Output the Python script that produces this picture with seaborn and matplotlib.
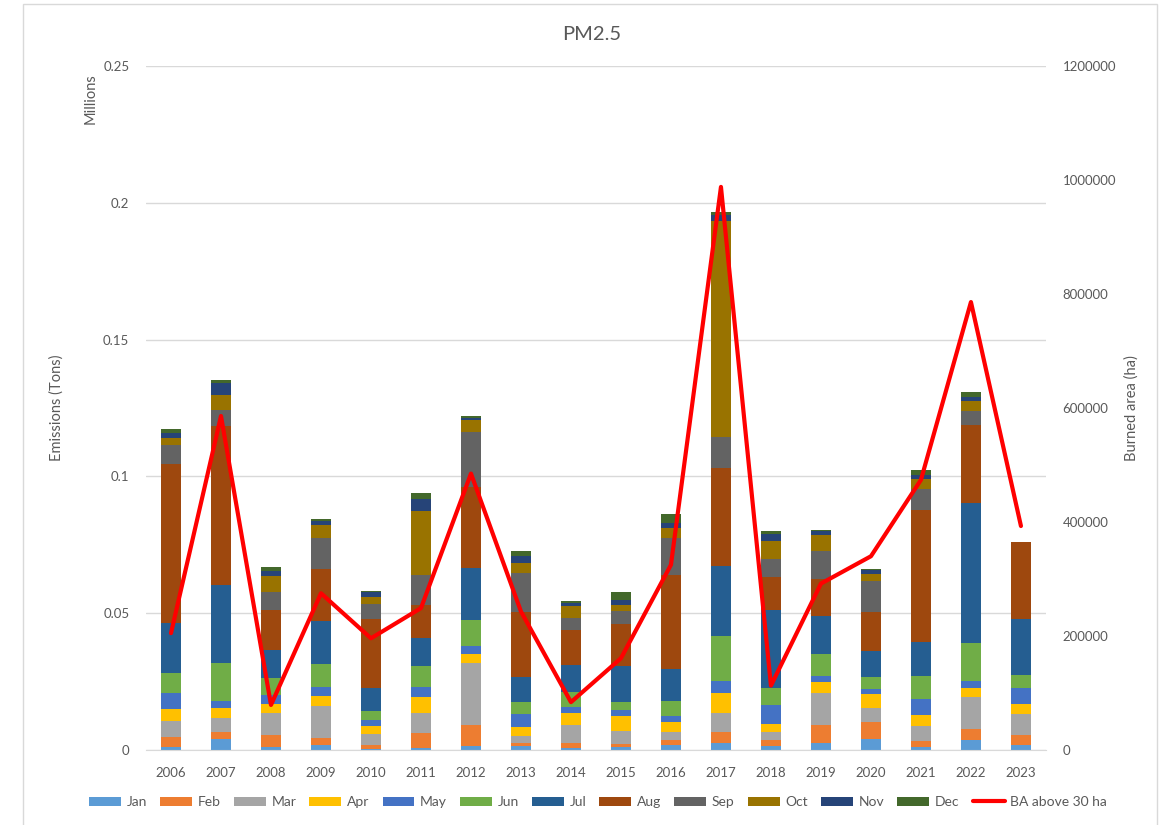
import matplotlib
matplotlib.use("Agg")
import matplotlib.pyplot as plt
from matplotlib.patches import Patch, Rectangle
from matplotlib.lines import Line2D
from matplotlib.ticker import FuncFormatter, MultipleLocator
import seaborn as sns
import numpy as np

# Years on the x axis
years = [str(y) for y in range(2006, 2024)]

# Monthly PM2.5 emissions (millions of tons)
jan = [0.0012, 0.0040, 0.0012, 0.0017, 0.0004, 0.0009, 0.0016, 0.0016, 0.0009, 0.0010, 0.0017, 0.0025, 0.0013, 0.0025, 0.0040, 0.0010, 0.0037, 0.0017]
feb = [0.0034, 0.0026, 0.0043, 0.0027, 0.0015, 0.0054, 0.0075, 0.0009, 0.0016, 0.0012, 0.0019, 0.0039, 0.0022, 0.0067, 0.0062, 0.0023, 0.0039, 0.0038]
mar = [0.0060, 0.0052, 0.0079, 0.0117, 0.0041, 0.0072, 0.0226, 0.0026, 0.0067, 0.0047, 0.0030, 0.0072, 0.0031, 0.0116, 0.0052, 0.0055, 0.0117, 0.0077]
apr = [0.0043, 0.0037, 0.0033, 0.0038, 0.0028, 0.0060, 0.0035, 0.0034, 0.0043, 0.0054, 0.0035, 0.0072, 0.0029, 0.0041, 0.0052, 0.0039, 0.0035, 0.0037]
may = [0.0061, 0.0024, 0.0034, 0.0033, 0.0021, 0.0037, 0.0028, 0.0047, 0.0023, 0.0023, 0.0023, 0.0043, 0.0068, 0.0020, 0.0018, 0.0060, 0.0023, 0.0056]
jun = [0.0073, 0.0139, 0.0062, 0.0083, 0.0034, 0.0075, 0.0096, 0.0044, 0.0055, 0.0029, 0.0056, 0.0166, 0.0065, 0.0082, 0.0044, 0.0083, 0.0139, 0.0050]
jul = [0.0180, 0.0285, 0.0102, 0.0157, 0.0083, 0.0102, 0.0190, 0.0090, 0.0096, 0.0133, 0.0116, 0.0256, 0.0285, 0.0139, 0.0093, 0.0126, 0.0512, 0.0204]
aug = [0.0582, 0.0582, 0.0147, 0.0190, 0.0252, 0.0122, 0.0297, 0.0238, 0.0129, 0.0153, 0.0342, 0.0357, 0.0118, 0.0135, 0.0144, 0.0480, 0.0287, 0.0281]
sep = [0.0069, 0.0058, 0.0064, 0.0114, 0.0056, 0.0108, 0.0201, 0.0142, 0.0044, 0.0046, 0.0136, 0.0114, 0.0069, 0.0102, 0.0112, 0.0079, 0.0052, 0.0]
oct = [0.0027, 0.0054, 0.0061, 0.0046, 0.0026, 0.0235, 0.0043, 0.0038, 0.0044, 0.0022, 0.0037, 0.0791, 0.0064, 0.0059, 0.0027, 0.0034, 0.0035, 0.0]
nov = [0.0018, 0.0043, 0.0019, 0.0016, 0.0016, 0.0044, 0.0006, 0.0026, 0.0013, 0.0018, 0.0017, 0.0020, 0.0024, 0.0013, 0.0013, 0.0015, 0.0016, 0.0]
dec = [0.0016, 0.0012, 0.0012, 0.0006, 0.0006, 0.0021, 0.0007, 0.0017, 0.0005, 0.0032, 0.0033, 0.0013, 0.0013, 0.0004, 0.0006, 0.0020, 0.0018, 0.0]

# Burned area above 30 ha (ha), secondary axis
ba_above_30 = [205000, 586000, 79000, 275000, 196000, 249000, 485000, 243000, 84000,
               161000, 325000, 988000, 113000, 292000, 340000, 474000, 786000, 393000]

month_names = ['Jan', 'Feb', 'Mar', 'Apr', 'May', 'Jun', 'Jul', 'Aug', 'Sep', 'Oct', 'Nov', 'Dec']
monthly = [jan, feb, mar, apr, may, jun, jul, aug, sep, oct, nov, dec]
month_colors = ['#5B9BD5', '#ED7D31', '#A5A5A5', '#FFC000', '#4472C4', '#70AD47',
                '#255E91', '#9E480E', '#636363', '#997300', '#264478', '#43682B']

sns.set_style('white')
plt.rcParams['font.family'] = ['Lato', 'DejaVu Sans']
text_col = '#595959'
grid_col = '#D9D9D9'

fig = plt.figure(figsize=(11.68, 8.25), dpi=100)
ax = fig.add_axes([0.125, 0.0909, 0.7705, 0.829])

# Stacked bars, one month at a time
bottom = np.zeros(len(years))
for name, vals, col in zip(month_names, monthly, month_colors):
    sns.barplot(x=years, y=vals, bottom=bottom, color=col, saturation=1,
                width=0.4, linewidth=0, errorbar=None, ax=ax)
    bottom += np.array(vals)

ax.set_ylim(0, 0.25)
ax.yaxis.set_major_locator(MultipleLocator(0.05))
ax.yaxis.set_major_formatter(FuncFormatter(lambda v, p: f"{v:g}"))
ax.grid(axis='y', color=grid_col, lw=1)
ax.set_axisbelow(True)
for s in ['top', 'left', 'right']:
    ax.spines[s].set_visible(False)
ax.spines['bottom'].set_color(grid_col)
ax.tick_params(axis='both', length=0, labelsize=9.5, labelcolor=text_col)
ax.tick_params(axis='y', pad=12)
ax.tick_params(axis='x', pad=12)
ax.set_xlabel('')
ax.set_ylabel('Emissions (Tons)', fontsize=10.5, color=text_col)
ax.yaxis.set_label_coords(-0.091, 0.5)
ax.text(-0.062, 0.953, 'Millions', transform=ax.transAxes, rotation=90,
        ha='center', va='center', fontsize=10.5, color=text_col)

# Burned area line on the secondary axis
ax2 = ax.twinx()
sns.lineplot(x=years, y=ba_above_30, color='#FF0000', lw=3, ax=ax2)
ax2.set_ylim(0, 1200000)
ax2.yaxis.set_major_locator(MultipleLocator(200000))
ax2.yaxis.set_major_formatter(FuncFormatter(lambda v, p: f"{int(v)}"))
for s in ax2.spines.values():
    s.set_visible(False)
ax2.tick_params(axis='y', length=0, labelsize=9.5, labelcolor=text_col, pad=12)
ax2.set_ylabel('Burned area (ha)', fontsize=10.5, color=text_col)
ax2.yaxis.set_label_coords(1.087, 0.5)
ax.set_xlim(-0.5, len(years) - 0.5)

fig.text(0.507, 0.958, 'PM2.5', ha='center', va='center', fontsize=14.5, color=text_col)

# Legend along the bottom
handles = [Patch(facecolor=c, edgecolor='none') for c in month_colors]
handles.append(Line2D([], [], color='#FF0000', lw=3))
labels = month_names + ['BA above 30 ha']
fig.legend(handles, labels, loc='center', bbox_to_anchor=(0.512, 1 - 802 / 825),
           ncol=13, frameon=False, fontsize=10, handlelength=2.3, handleheight=0.6,
           handletextpad=0.4, columnspacing=0.95, labelcolor=text_col)

# Chart area border
fig.add_artist(Rectangle((23 / 1168, -0.01), (1157 - 23) / 1168, 1.0052,
                         transform=fig.transFigure, fill=False, edgecolor=grid_col, lw=1))

fig.savefig('out.png', dpi=100)
